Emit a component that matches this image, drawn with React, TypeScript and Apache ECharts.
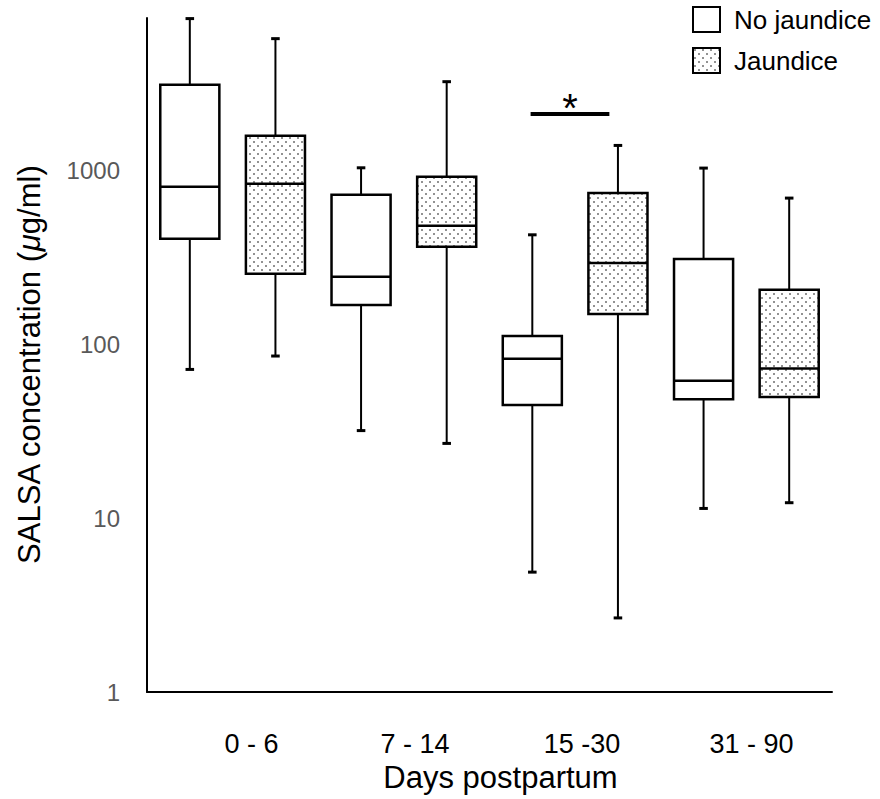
import React, { useEffect, useRef } from 'react';
import * as echarts from 'echarts';

// Age groups (days postpartum)
const groups = ['0 - 6', '7 - 14', '15 -30', '31 - 90'];
const seriesNames = ['No jaundice', 'Jaundice'];
// Each row: [min, Q1, median, Q3, max]  (µg/ml)
const noJaundice = [
  [72, 407, 811, 3140, 7540],
  [32, 169, 246, 729, 1043],
  [4.9, 45, 83, 112, 429],
  [11.4, 48.5, 62, 311, 1039],
];
const jaundice = [
  [86, 256, 844, 1596, 5780],
  [27, 366, 483, 926, 3267],
  [2.67, 150, 295, 746, 1403],
  [12.3, 50, 73, 207, 698],
];
const yTicks = [1, 10, 100, 1000];
const significanceLabel = '*';
const significanceLevel = 2140;

const FONT = '"Liberation Sans", Arial, Helvetica, sans-serif';

const dotTile =
  'data:image/svg+xml;charset=utf-8,' +
  encodeURIComponent(
    '<svg xmlns="http://www.w3.org/2000/svg" width="8" height="8">' +
      '<rect width="8" height="8" fill="#ffffff"/>' +
      '<rect x="1.2" y="1.2" width="1.6" height="1.6" fill="#555555"/>' +
      '<rect x="5.2" y="5.2" width="1.6" height="1.6" fill="#555555"/>' +
      '</svg>'
  );
const dotPattern: any = { image: dotTile, repeat: 'repeat', imageWidth: 8, imageHeight: 8 };

const BOX_HALF = 0.345;
const CAP_HALF = 0.05;

function makeRender(fill: any) {
  return (params: any, api: any) => {
    const x = api.value(0);
    const vals = [1, 2, 3, 4, 5].map((i) => api.value(i));
    const pts = vals.map((v: number) => api.coord([x, v]));
    const cx = pts[0][0];
    const hw = api.coord([x + BOX_HALF, vals[2]])[0] - cx;
    const cw = api.coord([x + CAP_HALF, vals[2]])[0] - cx;
    const [yMin, yQ1, yMed, yQ3, yMax] = pts.map((p: number[]) => p[1]);
    const line = { stroke: '#000', lineWidth: 2 };
    const cap = { stroke: '#000', lineWidth: 3 };
    return {
      type: 'group',
      children: [
        { type: 'line', shape: { x1: cx, y1: yQ3, x2: cx, y2: yMax }, style: line },
        { type: 'line', shape: { x1: cx, y1: yQ1, x2: cx, y2: yMin }, style: line },
        { type: 'line', shape: { x1: cx - cw, y1: yMax, x2: cx + cw, y2: yMax }, style: cap },
        { type: 'line', shape: { x1: cx - cw, y1: yMin, x2: cx + cw, y2: yMin }, style: cap },
        {
          type: 'rect',
          shape: { x: cx - hw, y: yQ3, width: 2 * hw, height: yQ1 - yQ3 },
          style: { fill, stroke: '#000', lineWidth: 2.5 },
        },
        { type: 'line', shape: { x1: cx - hw, y1: yMed, x2: cx + hw, y2: yMed }, style: { stroke: '#000', lineWidth: 2.5 } },
      ],
    };
  };
}

export default function App() {
  const ref = useRef<HTMLDivElement>(null);
  useEffect(() => {
    if (!ref.current) return;
    const chart = echarts.init(ref.current, undefined, { renderer: 'svg' });
    const dataA = noJaundice.map((r, i) => [2 * i + 0.5, ...r]);
    const dataB = jaundice.map((r, i) => [2 * i + 1.5, ...r]);
    const labelAt = [1.22, 3.13, 5.08, 7.06];
    const option: any = {
      animation: false,
      textStyle: { fontFamily: FONT },
      legend: {
        orient: 'vertical',
        left: 692,
        top: 6,
        padding: 0,
        itemWidth: 27,
        itemHeight: 25,
        itemGap: 14,
        icon: 'rect',
        selectedMode: false,
        textStyle: { fontFamily: FONT, fontSize: 26, lineHeight: 25, color: '#000', padding: [0, 0, 0, 9] },
        data: [
          { name: seriesNames[0], itemStyle: { color: '#fff', borderColor: '#000', borderWidth: 2 } },
          { name: seriesNames[1], itemStyle: { color: dotPattern, borderColor: '#000', borderWidth: 2 } },
        ],
      },
      grid: { left: 147, right: 48, top: 18, bottom: 107, containLabel: false },
      xAxis: {
        type: 'value',
        min: 0,
        max: 8,
        splitLine: { show: false },
        axisTick: { show: false },
        axisLine: { show: true, lineStyle: { color: '#000', width: 2 } },
        axisLabel: {
          customValues: labelAt,
          formatter: (v: number) => groups[Math.min(3, Math.max(0, Math.floor(v / 2)))],
          fontSize: 27,
          color: '#000',
          margin: 38,
          fontFamily: FONT,
        },
        name: 'Days postpartum',
        nameLocation: 'middle',
        nameGap: 60,
        nameTextStyle: { fontSize: 31, color: '#000', fontFamily: FONT, padding: [0, 0, 0, 22] },
      },
      yAxis: {
        type: 'log',
        logBase: 10,
        min: yTicks[0],
        max: 7600,
        splitLine: { show: false },
        axisTick: { show: false },
        axisLine: { show: true, lineStyle: { color: '#000', width: 2 } },
        axisLabel: {
          fontSize: 24,
          color: '#595959',
          margin: 27,
          fontFamily: FONT,
          formatter: (v: number) => (yTicks.indexOf(Math.round(v)) >= 0 ? String(Math.round(v)) : ''),
        },
        name: 'SALSA concentration ({i|μ}g/ml)',
        nameLocation: 'middle',
        nameGap: 102,
        nameTextStyle: {
          fontSize: 31,
          color: '#000',
          fontFamily: FONT,
          padding: [0, 20, 0, 0],
          rich: { i: { fontSize: 31, fontStyle: 'italic', color: '#000', fontFamily: FONT } },
        },
      },
      series: [
        {
          name: seriesNames[0],
          type: 'custom',
          dimensions: ['x', 'min', 'q1', 'median', 'q3', 'max'],
          encode: { x: 0, y: [1, 2, 3, 4, 5] },
          itemStyle: { color: '#fff', borderColor: '#000' },
          renderItem: makeRender('#ffffff'),
          data: dataA,
          silent: true,
          markLine: {
            silent: true,
            symbol: 'none',
            animation: false,
            lineStyle: { color: '#000', width: 4, type: 'solid' },
            label: {
              show: true,
              position: 'middle',
              formatter: significanceLabel,
              fontSize: 40,
              color: '#000',
              distance: -14,
              fontFamily: FONT,
            },
            emphasis: { disabled: true },
            data: [[{ coord: [4.48, significanceLevel] }, { coord: [5.4, significanceLevel] }]],
          },
        },
        {
          name: seriesNames[1],
          type: 'custom',
          dimensions: ['x', 'min', 'q1', 'median', 'q3', 'max'],
          encode: { x: 0, y: [1, 2, 3, 4, 5] },
          itemStyle: { color: dotPattern, borderColor: '#000' },
          renderItem: makeRender(dotPattern),
          data: dataB,
          silent: true,
        },
      ],
    };
    chart.setOption(option);
    return () => chart.dispose();
  }, []);
  return (
    <div
      ref={ref}
      style={{ position: 'fixed', left: 0, top: 0, width: 880, height: 799, background: '#fff' }}
    />
  );
}
